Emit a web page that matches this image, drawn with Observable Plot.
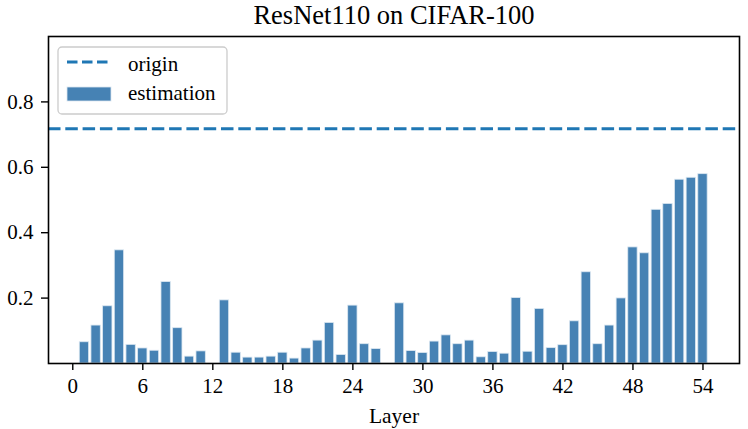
<!DOCTYPE html>
<html><head><meta charset="utf-8">
<script src="https://cdn.jsdelivr.net/npm/d3@7"></script>
<script src="https://cdn.jsdelivr.net/npm/@observablehq/plot@0.6"></script>
<style>body{margin:0;background:#fff} #chart{width:748px;height:429px}</style>
</head><body><div id="chart"></div>
<script>
const title = "ResNet110 on CIFAR-100";
const xLabel = "Layer";
const legendLabels = ["origin", "estimation"];
const layers = d3.range(1, 55);
const estimation = [
  0.065, 0.116, 0.175, 0.346, 0.057, 0.046, 0.039, 0.249, 0.108, 0.021,
  0.037, 0.000, 0.193, 0.033, 0.018, 0.018, 0.021, 0.033, 0.015, 0.046,
  0.070, 0.124, 0.026, 0.177, 0.059, 0.044, 0.000, 0.184, 0.038, 0.032,
  0.067, 0.086, 0.059, 0.070, 0.019, 0.035, 0.030, 0.200, 0.036, 0.167,
  0.047, 0.056, 0.129, 0.279, 0.059, 0.116, 0.199, 0.355, 0.337, 0.470,
  0.488, 0.562, 0.568, 0.579
];
const originValue = 0.718;
const xTicks = [0, 6, 12, 18, 24, 30, 36, 42, 48, 54];
const yTicks = [0.2, 0.4, 0.6, 0.8];

const barColor = "#4682b4";
const lineColor = "#1f77b4";
const font = "'Liberation Serif', 'Times New Roman', serif";

const data = layers.map((l, i) => ({layer: l, value: estimation[i]})).filter(d => d.value > 0);

const chart = Plot.plot({
  width: 748, height: 429,
  marginLeft: 48, marginRight: 9, marginTop: 36, marginBottom: 66,
  x: {domain: [-2.08, 57.13]},
  y: {domain: [0, 1]},
  style: {fontFamily: font, fontSize: "21px", color: "black", background: "white"},
  marks: [
    Plot.rectY(data, {x1: d => d.layer - 0.4, x2: d => d.layer + 0.4, y1: 0, y2: "value",
      fill: barColor, stroke: "#dbe7f1", strokeWidth: 0.8}),
    Plot.ruleY([originValue], {stroke: lineColor, strokeWidth: 3, strokeDasharray: "12.5,4.8"}),
    Plot.frame({stroke: "black", strokeWidth: 1.6}),
    Plot.axisX({ticks: xTicks, tickSize: 7, tickPadding: 8, fontSize: 21, label: null, tickFormat: d => String(d), strokeWidth: 1.4}),
    Plot.axisY({ticks: yTicks, tickSize: 7, tickPadding: 8, fontSize: 21, label: null, tickFormat: d => d.toFixed(1), strokeWidth: 1.4}),
    Plot.text([xLabel], {frameAnchor: "bottom", lineAnchor: "bottom", dy: 59, text: d => d, fontSize: 21.5, fill: "black"}),
    Plot.text([title], {frameAnchor: "top", lineAnchor: "bottom", dy: -12.7, text: d => d, fontSize: 26.5, fill: "black"})
  ]
});

// legend
const svg = d3.select(chart);
const lg = svg.append("g").attr("font-family", font).style("font-size", "21px").attr("text-anchor", "start");
lg.append("rect").attr("x", 58).attr("y", 47).attr("width", 169).attr("height", 67)
  .attr("rx", 4).attr("fill", "white").attr("fill-opacity", 0.8).attr("stroke", "#cccccc").attr("stroke-width", 1.3);
lg.append("line").attr("x1", 67).attr("x2", 111).attr("y1", 62).attr("y2", 62)
  .attr("stroke", lineColor).attr("stroke-width", 3).attr("stroke-dasharray", "10.5,4.5");
lg.append("rect").attr("x", 67).attr("y", 87).attr("width", 44).attr("height", 14)
  .attr("fill", barColor).attr("stroke", "#dbe7f1").attr("stroke-width", 0.8);
lg.append("text").attr("x", 128).attr("y", 71).attr("fill", "black").style("text-anchor", "start").text(legendLabels[0]);
lg.append("text").attr("x", 128).attr("y", 100).attr("fill", "black").style("text-anchor", "start").text(legendLabels[1]);

document.getElementById("chart").appendChild(chart);
</script>
</body></html>
